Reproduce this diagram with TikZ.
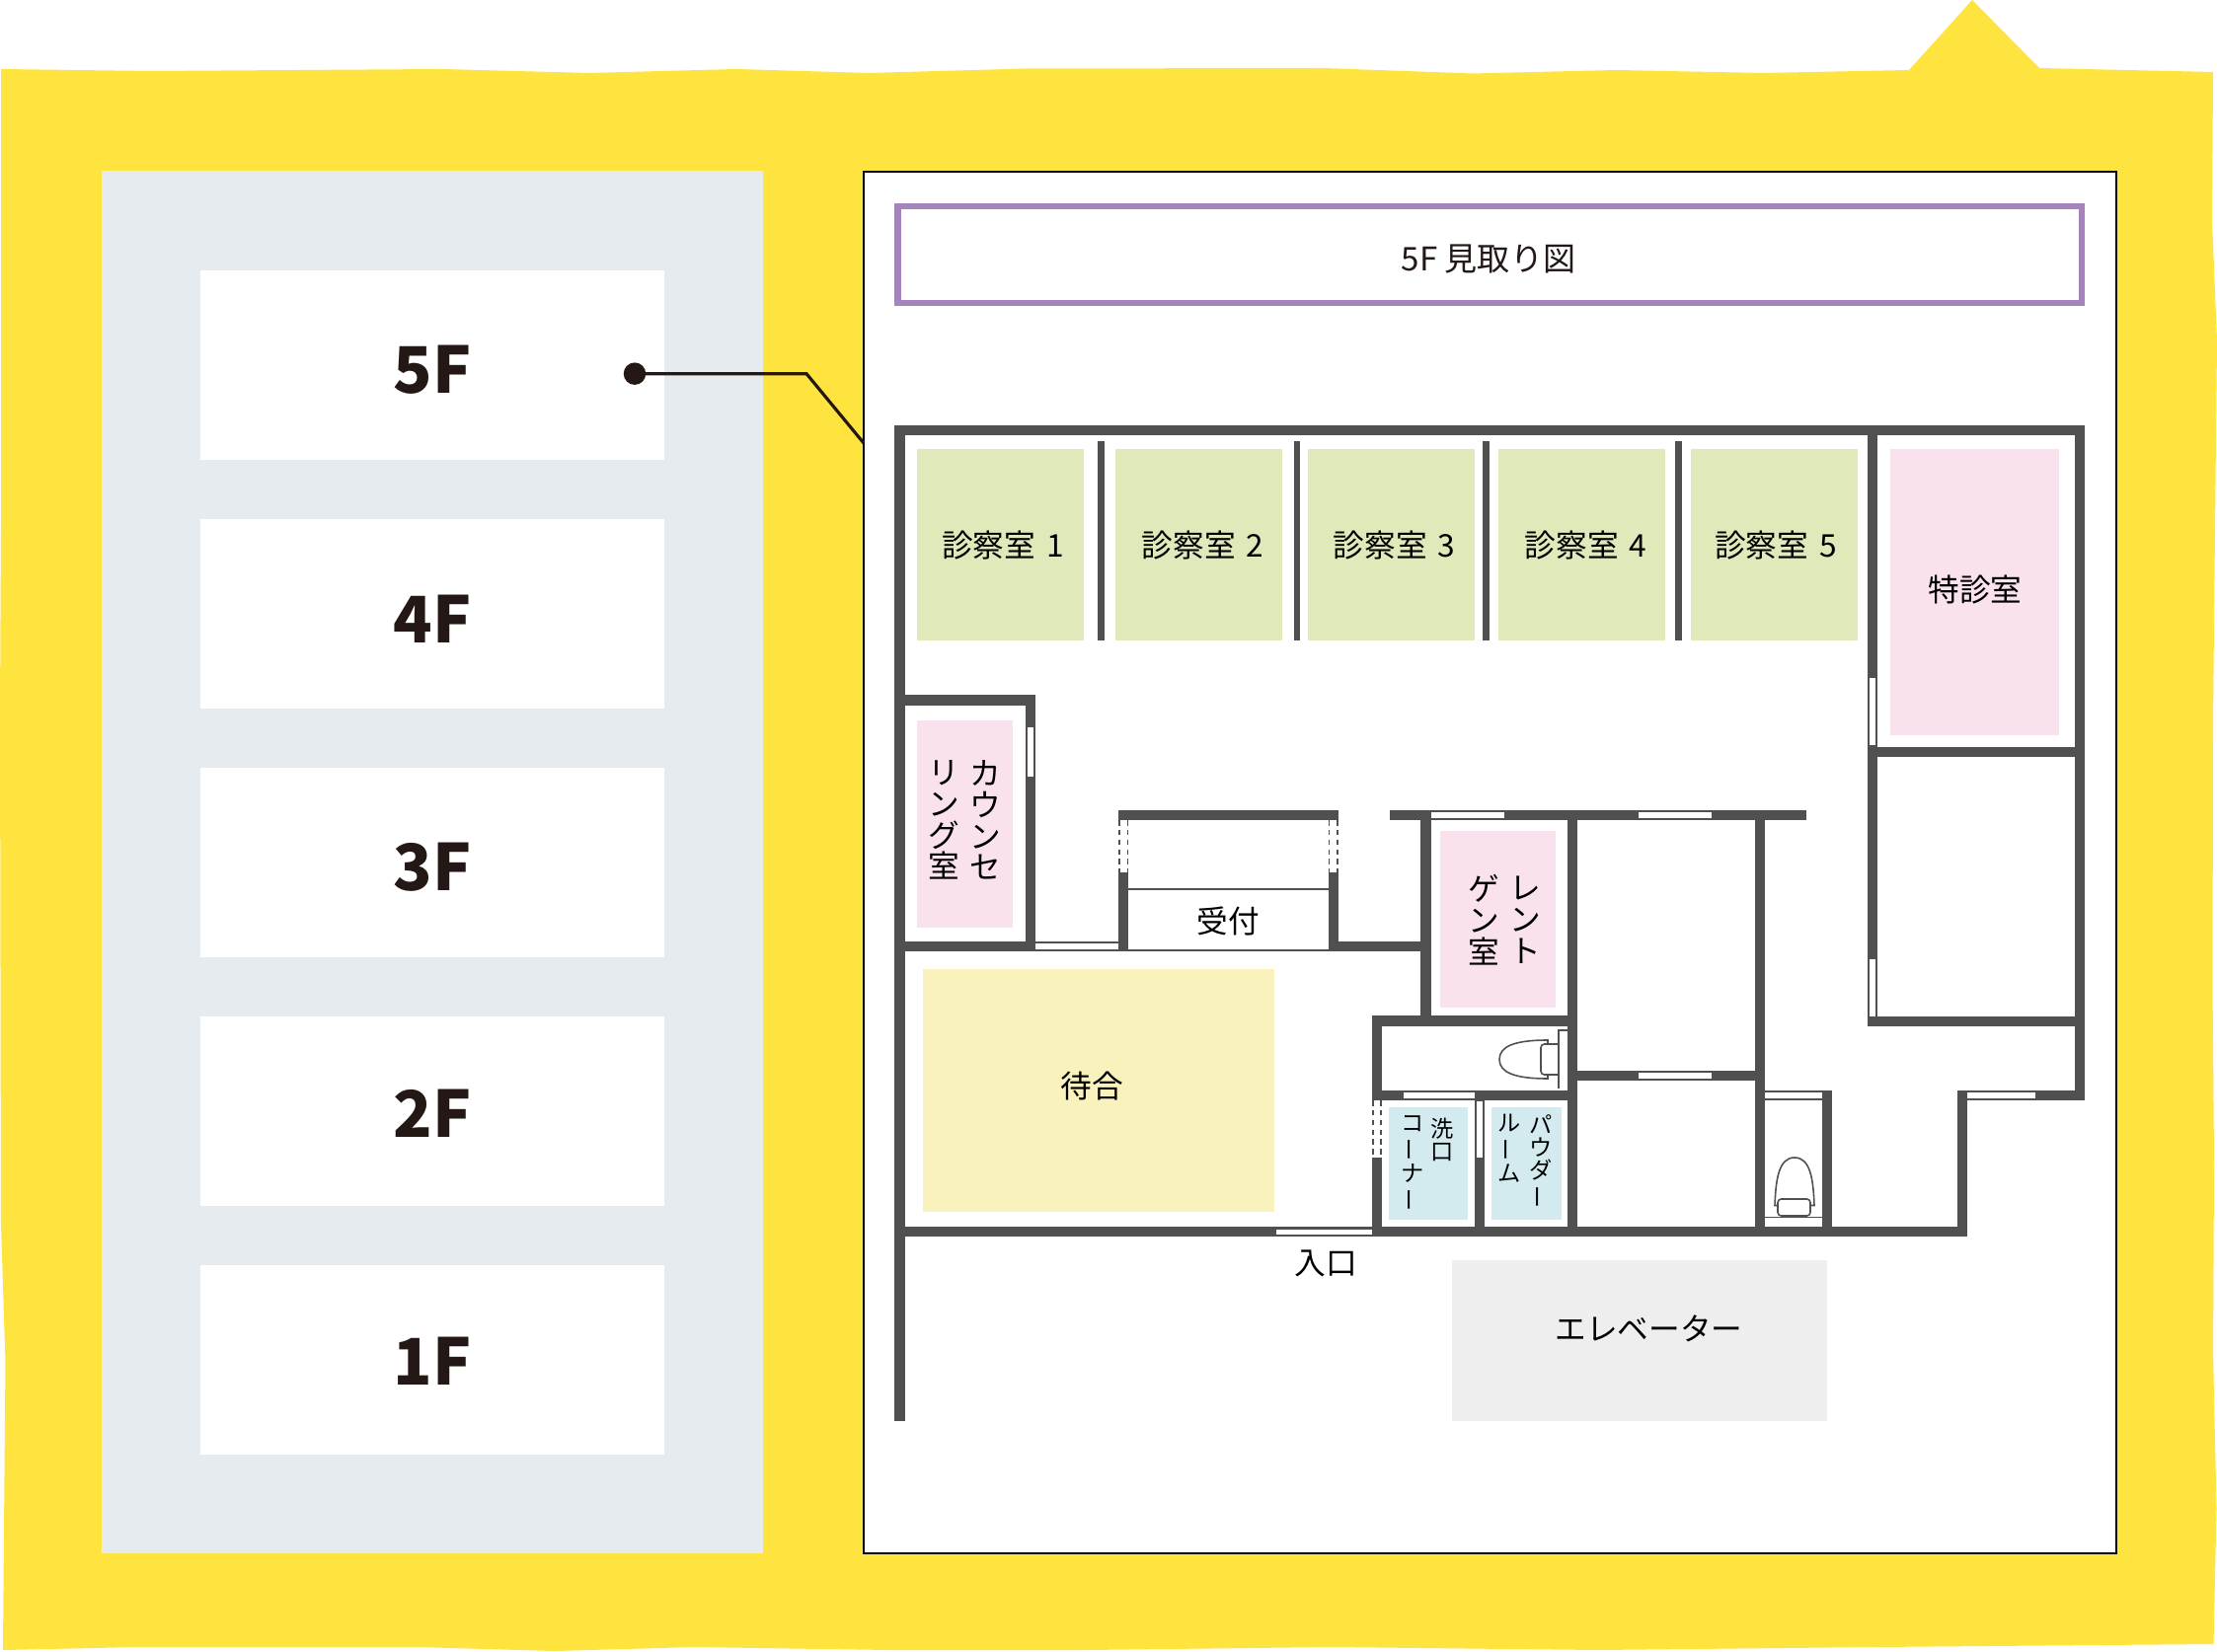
\documentclass[tikz,border=0pt]{standalone}
\usepackage{fontspec}
\setmainfont{Noto Sans CJK JP}
\usetikzlibrary{calc}
\definecolor{bgyellow}{HTML}{FFE33F}
\definecolor{panelgray}{HTML}{E5EBEE}
\definecolor{wallgray}{HTML}{505050}
\definecolor{titlepurple}{HTML}{A584BB}
\definecolor{roomgreen}{HTML}{DFE9BA}
\definecolor{roompink}{HTML}{F9E1EE}
\definecolor{roomyellow}{HTML}{F9F2BC}
\definecolor{roomblue}{HTML}{D3EBEF}
\definecolor{elevgray}{HTML}{EEEEEE}
\definecolor{inkdark}{HTML}{231815}
\newcommand{\vbar}{\rotatebox[origin=c]{90}{ー}}
\tikzset{
  wall/.style={draw=wallgray,line width=2.9pt},
  thinwall/.style={draw=wallgray,line width=1.85pt},
  fixture/.style={draw=wallgray,line width=0.45pt},
  doordash/.style={draw=wallgray,line width=0.45pt,dash pattern=on 1.6pt off 1.2pt},
  roomtext/.style={font=\fontsize{9}{9.05}\selectfont,text=black,inner sep=0pt,align=center},
  smalltext/.style={font=\fontsize{6.6}{6.6}\selectfont,text=black,inner sep=0pt,align=center},
  floortext/.style={font=\fontsize{18.5}{18.5}\selectfont\bfseries,text=inkdark,inner sep=0pt},
}
\begin{document}
\begin{tikzpicture}[x=0.01cm,y=-0.01cm]
\useasboundingbox (0,0) rectangle (2246,1674);
\fill[white] (0,0) rectangle (2246,1674);

\fill[bgyellow] (1,70) -- (152,72) -- (448,70) -- (597,74) -- (746,70) -- (880,74) -- (1039,69.5) -- (1340,69)
  -- (1492,74.5) -- (1637,71) -- (1786,74) -- (1934,71) -- (1998,0) -- (2066,69) -- (2242,73) -- (2241,224)
  -- (2246,345) -- (2242,727) -- (2241.5,1000) -- (2243,1180) -- (2242,1370) -- (2245.5,1529) -- (2242.5,1666)
  -- (1900,1669) -- (1620,1672) -- (1350,1669) -- (1100,1672) -- (900,1672) -- (703,1669) -- (562,1673) -- (422,1669) -- (140,1669) -- (3,1672)
  -- (5.5,1380) -- (1,1240) -- (0,720) -- (1,540) -- cycle;

\fill[panelgray] (103,173.5) rectangle (773,1573.5);
\fill[white] (202.5,274) rectangle (673,466);
\fill[white] (202.5,526) rectangle (673,718);
\fill[white] (202.5,778) rectangle (673,970);
\fill[white] (202.5,1030) rectangle (673,1222);
\fill[white] (202.5,1282) rectangle (673,1474);
\node[floortext] (floor5) at (438,375) {5F};
\node[floortext] (floor4) at (438,627) {4F};
\node[floortext] (floor3) at (438,879) {3F};
\node[floortext] (floor2) at (438,1128) {2F};
\node[floortext] (floor1) at (438,1379) {1F};

\draw[black,line width=0.6pt,fill=white] (875,174) rectangle (2144,1574);

\coordinate (bend) at (817,378.7);
\coordinate (panelhit) at (875,449);
\node[circle,fill=inkdark,inner sep=0pt,minimum size=6.4pt] (floordot) at (643,378.7) {};
\draw[inkdark,line width=0.9pt] (floordot.center) -- (bend) -- (panelhit);

\draw[titlepurple,line width=1.75pt] (909.5,208.7) rectangle (2109,307);
\node[font=\fontsize{9.4}{9.4}\selectfont,text=inkdark,inner sep=0pt] (title) at (1508,263) {5F 見取り図};

\fill[roomgreen] (929,455) rectangle (1098,648.7);
\fill[roomgreen] (1130,455) rectangle (1299,648.7);
\fill[roomgreen] (1325,455) rectangle (1494,648.7);
\fill[roomgreen] (1518,455) rectangle (1687,648.7);
\fill[roomgreen] (1712.5,455) rectangle (1882,648.7);
\fill[roompink] (1914.5,455) rectangle (2086,745);
\fill[roompink] (929,730.5) rectangle (1026,940.5);
\fill[roompink] (1459,842) rectangle (1576,1021);
\fill[roomyellow] (935,982) rectangle (1291,1228);
\fill[roomblue] (1407,1121.5) rectangle (1487,1235.5);
\fill[roomblue] (1511,1121.5) rectangle (1582,1235.5);
\fill[elevgray] (1471,1277) rectangle (1851,1440);

\draw[wall] (911.5,1440) -- (911.5,436) -- (2107,436) -- (2107,1110) -- (1988,1110) -- (1988,1248) -- (906,1248);
\draw[thinwall] (1115.5,447.5) -- (1115.5,648.7);
\draw[thinwall] (1314,447.5) -- (1314,648.7);
\draw[thinwall] (1505.5,447.5) -- (1505.5,648.7);
\draw[thinwall] (1700.5,447.5) -- (1700.5,648.7);
\draw[wall] (1897,436) -- (1897,1040);
\draw[wall] (1892,761.7) -- (2107,761.7);
\draw[wall] (1892,1035) -- (2107,1035);
\draw[wall] (906,709.5) -- (1044,709.5) -- (1044,964);
\draw[wall] (906,959) -- (1143,959);
\draw[wall] (1138,964) -- (1138,884);
\draw[wall] (1351,964) -- (1351,884);
\draw[wall] (1133,826) -- (1356,826);
\draw[wall] (1346,959) -- (1449.5,959);
\draw[wall] (1408,826) -- (1830,826);
\draw[wall] (1444.5,826) -- (1444.5,1034);
\draw[wall] (1593,826) -- (1593,1248);
\draw[wall] (1783,826) -- (1783,1248);
\draw[wall] (1593,1090) -- (1783,1090);
\draw[wall] (1593,1034.5) -- (1395,1034.5) -- (1395,1115);
\draw[wall] (1395,1173) -- (1395,1248);
\draw[wall] (1390,1110) -- (1593,1110);
\draw[wall] (1499,1110) -- (1499,1248);
\draw[wall] (1783,1110) -- (1851,1110) -- (1851,1248);

\fill[white] (1041,737) rectangle (1047,787);
\fill[white] (1893.5,687) rectangle (1899.5,755);
\fill[white] (1893.5,972) rectangle (1899.5,1030);
\fill[white] (1496,1116) rectangle (1502,1173);
\fill[white] (1049,956) rectangle (1133,962);
\fill[white] (1450,823) rectangle (1524,829);
\fill[white] (1660,823) rectangle (1734,829);
\fill[white] (1660,1087) rectangle (1734,1093);
\fill[white] (1422,1107) rectangle (1494,1113);
\fill[white] (1993,1107) rectangle (2062,1113);
\fill[white] (1788,1107) rectangle (1846,1113);
\fill[white] (1293,1246) rectangle (1390,1251);

\draw[fixture] (1143,963) -- (1346,963);
\draw[wallgray,line width=0.55pt] (1143,900.7) -- (1346,900.7);
\draw[doordash] (1134,831) -- (1134,884);
\draw[doordash] (1142.5,831) -- (1142.5,884);
\draw[doordash] (1346.5,831) -- (1346.5,884);
\draw[doordash] (1355,831) -- (1355,884);
\draw[doordash] (1391,1115) -- (1391,1173);
\draw[doordash] (1399,1115) -- (1399,1173);

\draw[fixture] (1579,1103) -- (1579,1044) -- (1588,1044);
\draw[fixture] (1568,1058) -- (1568,1054) .. controls (1535,1054) and (1519,1060) .. (1519,1073.5)
  .. controls (1519,1087) and (1535,1093) .. (1568,1093) -- (1568,1089);
\draw[fixture,rounded corners=1pt] (1579,1058) -- (1561,1058) -- (1561,1089) -- (1579,1089);

\draw[fixture] (1788,1233.5) -- (1846,1233.5);
\draw[fixture] (1801,1221.5) -- (1798,1221.5) .. controls (1799,1195) and (1802,1173) .. (1818,1173)
  .. controls (1834,1173) and (1837,1195) .. (1838,1221.5) -- (1834,1221.5);
\draw[fixture,rounded corners=1pt] (1801,1215) rectangle (1834,1232);

\node[roomtext] (room1) at (1016,553) {診察室\hspace{0.12em} 1};
\node[roomtext] (room2) at (1218.5,553) {診察室\hspace{0.12em} 2};
\node[roomtext] (room3) at (1412.5,553) {診察室\hspace{0.12em} 3};
\node[roomtext] (room4) at (1606.5,553) {診察室\hspace{0.12em} 4};
\node[roomtext] (room5) at (1799,553) {診察室\hspace{0.12em} 5};
\node[roomtext] (special) at (2001,597) {特診室};
\node[roomtext] (counsel1) at (998,831) {カ\\ウ\\ン\\セ};
\node[roomtext] (counsel2) at (956,831) {リ\\ン\\グ\\室};
\node[roomtext] (xray1) at (1545,932) {レ\\ン\\ト};
\node[roomtext] (xray2) at (1503,932) {ゲ\\ン\\室};
\node[roomtext] (reception) at (1244,933) {受付};
\node[roomtext] (waiting) at (1106,1101) {待合};
\node[roomtext] (entrance) at (1343,1280) {入口};
\node[roomtext] (elevator) at (1670.5,1346) {エレベーター};
\node[smalltext] (wash1) at (1461,1155) {洗\\口};
\node[smalltext] (wash2) at (1431,1179) {コ\\\vbar\\ナ\\\vbar};
\node[smalltext] (powder1) at (1561,1177) {パ\\ウ\\ダ\\\vbar};
\node[smalltext] (powder2) at (1529,1164) {ル\\\vbar\\ム};
\end{tikzpicture}
\end{document}
